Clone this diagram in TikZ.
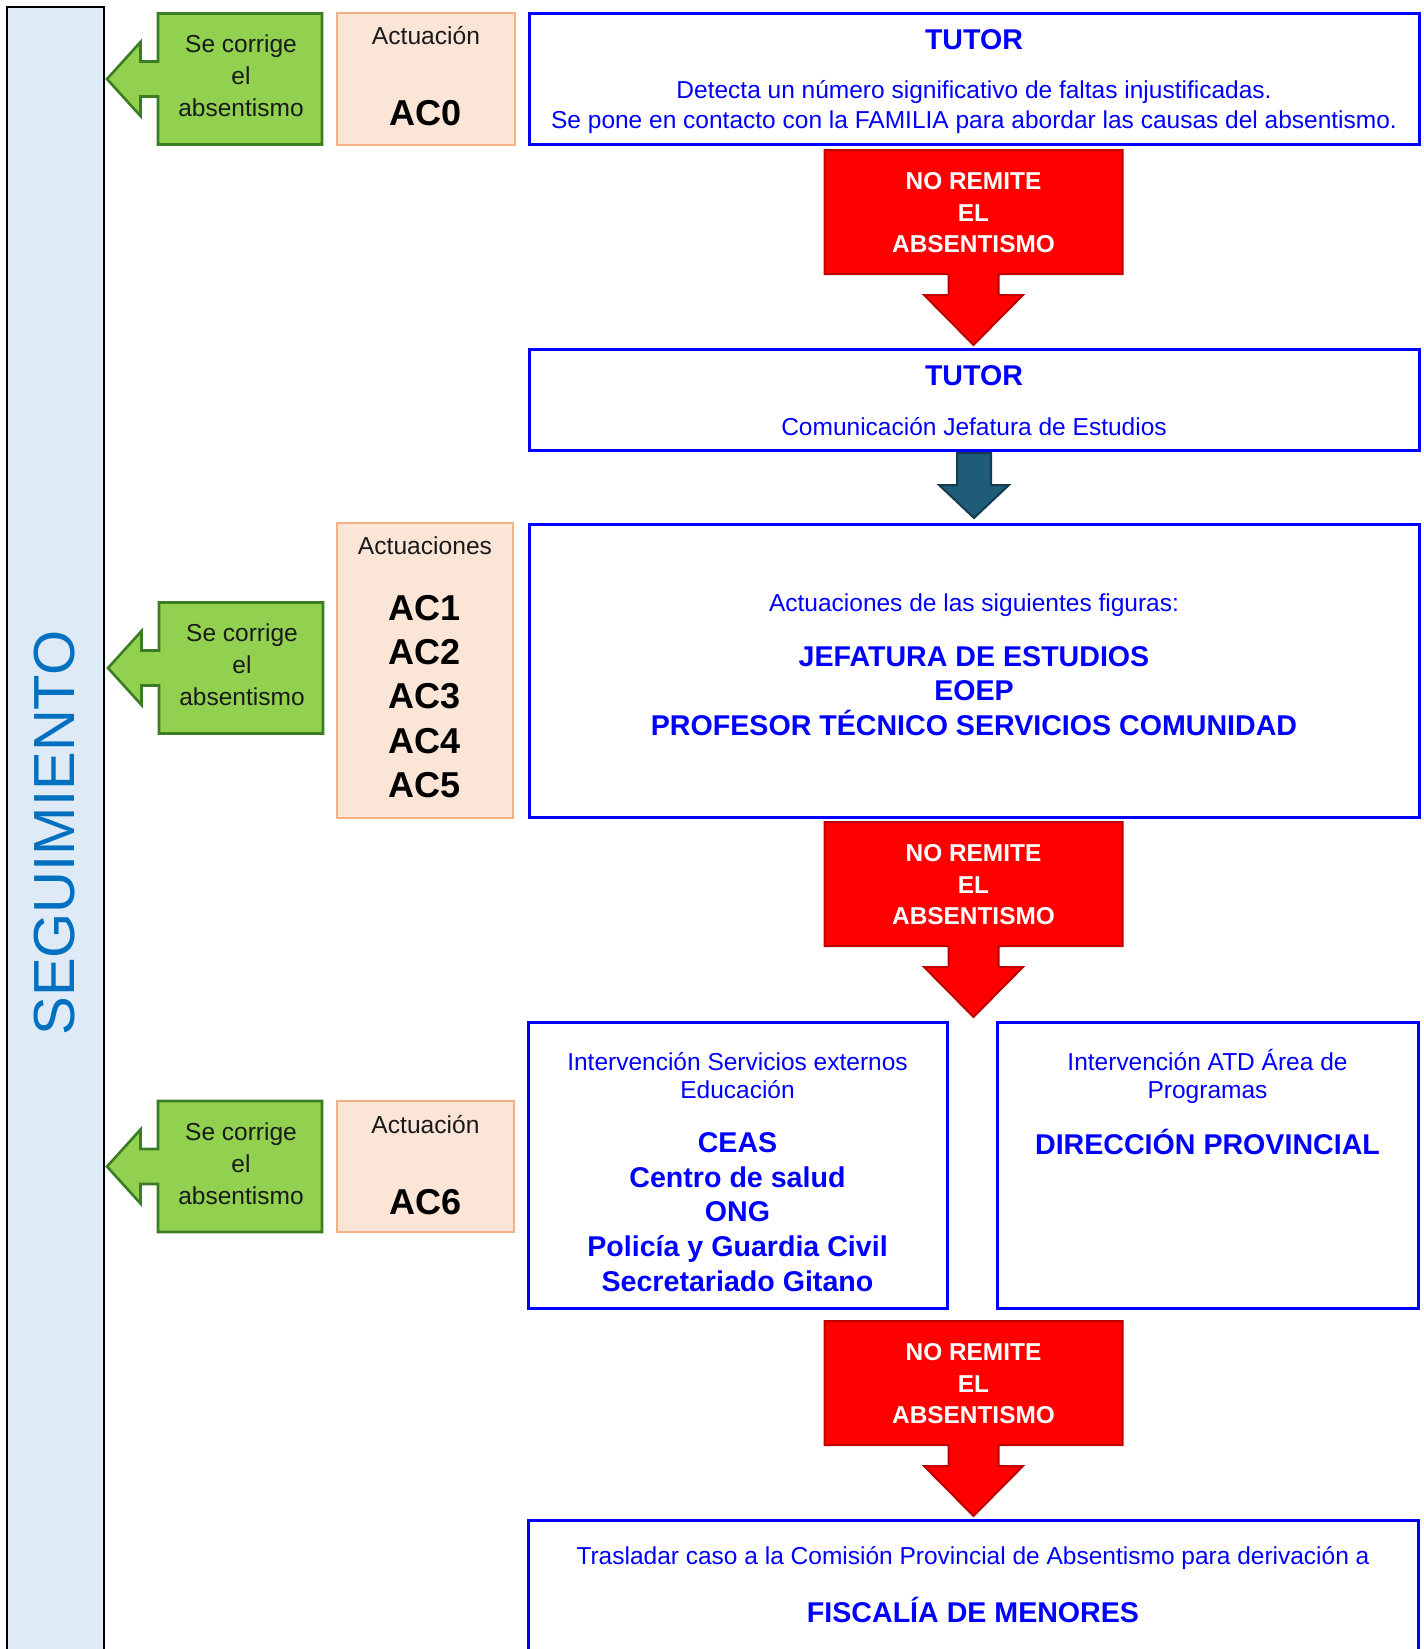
\documentclass[tikz,border=0pt]{standalone}
\usepackage{fontspec}
\setmainfont{Liberation Sans}
\usepackage{tikz}
\usetikzlibrary{positioning}
\definecolor{segblue}{HTML}{0070C0}
\definecolor{stripfill}{HTML}{DEEBF7}
\definecolor{greenfill}{HTML}{92D050}
\definecolor{greenline}{HTML}{3B7D23}
\definecolor{salmonfill}{HTML}{FBE5D6}
\definecolor{salmonline}{HTML}{F4B183}
\definecolor{boxblue}{HTML}{0000FF}
\definecolor{redline}{HTML}{C00000}
\definecolor{stepblue}{HTML}{1F5C7A}
\definecolor{stepline}{HTML}{143A4E}
\definecolor{inkgray}{HTML}{1A1A1A}
\tikzset{
  flow/strip/.style={draw=black, line width=0.85pt, fill=stripfill, inner sep=0pt},
  flow/title/.style={text=segblue, font=\fontsize{29}{34}\selectfont, rotate=90},
  flow/stage/.style={draw=boxblue, line width=1.5pt, fill=white, inner sep=0pt},
  flow/plain/.style={text=boxblue, align=center, font=\fontsize{12.25}{15}\selectfont},
  flow/strong/.style={text=boxblue, align=center, font=\fontsize{14.3}{17.4}\selectfont\bfseries},
  flow/act/.style={draw=salmonline, line width=1.3pt, fill=salmonfill, inner sep=0pt},
  flow/acthead/.style={text=inkgray, font=\fontsize{12.3}{15}\selectfont},
  flow/code/.style={text=black, align=center, font=\fontsize{18}{22.1}\selectfont\bfseries},
  flow/greenarrow/.style={draw=greenline, line width=1.3pt, fill=greenfill, line join=miter},
  flow/greentext/.style={text=inkgray, align=center, font=\fontsize{12.25}{16}\selectfont},
  flow/redarrow/.style={draw=redline, line width=1pt, fill=red},
  flow/redtext/.style={text=white, align=center, font=\fontsize{12.2}{15.75}\selectfont\bfseries},
  flow/darkarrow/.style={draw=stepline, line width=1pt, fill=stepblue},
  pics/noremite/.style={code={
    \path[flow/redarrow] (-149,0) -- (149,0) -- (149,124) -- (25,124) -- (25,145) -- (49.5,145)
      -- (0,195) -- (-49.5,145) -- (-25,145) -- (-25,124) -- (-149,124) -- cycle;
    \node[flow/redtext] (-txt) at (0,63) {NO REMITE\\EL\\ABSENTISMO};
  }},
  pics/corrige/.style={code={
    \path[flow/greenarrow] (-82,-65.5) -- (82,-65.5) -- (82,65.5) -- (-82,65.5) -- (-82,17.5)
      -- (-99.5,17.5) -- (-99.5,37) -- (-133,0) -- (-99.5,-37) -- (-99.5,-17.5) -- (-82,-17.5) -- cycle;
    \node[flow/greentext] (-txt) at (1,-3) {Se corrige\\el\\absentismo};
  }},
  pics/downstep/.style={code={
    \path[flow/darkarrow] (-17,0) -- (17,0) -- (17,32) -- (35,32) -- (0,65) -- (-35,32) -- (-17,32) -- cycle;
  }}
}

\begin{document}
\begin{tikzpicture}[x=0.5pt, y=-0.5pt]
  \useasboundingbox (0,0) rectangle (1424,1649);
  \clip (0,0) rectangle (1424,1649);

  % side band
  \node[flow/strip, minimum width=48.5pt, minimum height=846.5pt] (band) at (55.5,853.5) {};
  \node[flow/title] (seg) at (55,833) {SEGUIMIENTO};

  % actuaciones
  \node[flow/act, minimum width=89pt, minimum height=66pt] (ac0) at (426,79) {};
  \node[flow/acthead] (ac0h) at (426,36) {Actuación};
  \node[flow/code] (ac0c) at (426,113) {AC0};

  \node[flow/act, minimum width=88pt, minimum height=147.5pt] (acs) at (425,670.5) {};
  \node[flow/acthead] (acsh) at (425,546) {Actuaciones};
  \node[flow/code] (acsc) at (425,696.5) {AC1\\AC2\\AC3\\AC4\\AC5};

  \node[flow/act, minimum width=88.5pt, minimum height=65.5pt] (ac6) at (425.5,1166.5) {};
  \node[flow/acthead] (ac6h) at (425.5,1125) {Actuación};
  \node[flow/code] (ac6c) at (425.5,1202) {AC6};

  % se corrige
  \pic (cor0) at (240,79) {corrige};
  \pic (cor1) at (241,668) {corrige};
  \pic (cor2) at (240,1166.5) {corrige};

  % stages
  \node[flow/stage, minimum width=445pt, minimum height=65.5pt] (tut1) at (974,78.5) {};
  \node[flow/strong] (tut1h) at (974,40) {TUTOR};
  \node[flow/plain] (tut1t) at (974,107) {Detecta un número significativo de faltas injustificadas.\\Se pone en contacto con la FAMILIA para abordar las causas del absentismo.};

  \node[flow/stage, minimum width=445pt, minimum height=50.5pt] (tut2) at (974,399.5) {};
  \node[flow/strong] (tut2h) at (974,376) {TUTOR};
  \node[flow/plain] (tut2t) at (974,427) {Comunicación Jefatura de Estudios};

  \node[flow/stage, minimum width=445pt, minimum height=146.5pt] (fig) at (974,670.5) {};
  \node[flow/plain] (figt) at (974,605) {Actuaciones de las siguientes figuras:};
  \node[flow/strong] (figs) at (974,691) {JEFATURA DE ESTUDIOS\\EOEP\\PROFESOR TÉCNICO SERVICIOS COMUNIDAD};

  \node[flow/stage, minimum width=209.5pt, minimum height=143pt] (ext) at (737.5,1165) {};
  \node[flow/plain, font=\fontsize{12.25}{14}\selectfont] (extt) at (737.5,1076) {Intervención Servicios externos\\Educación};
  \node[flow/strong] (exts) at (737.5,1212) {CEAS\\Centro de salud\\ONG\\Policía y Guardia Civil\\Secretariado Gitano};

  \node[flow/stage, minimum width=210.5pt, minimum height=143pt] (atd) at (1207.5,1165) {};
  \node[flow/plain, font=\fontsize{12.25}{14}\selectfont] (atdt) at (1207.5,1076) {Intervención ATD Área de\\Programas};
  \node[flow/strong] (atds) at (1207.5,1142) {DIRECCIÓN PROVINCIAL};

  \node[flow/stage, minimum width=445pt, minimum height=90pt] (fis) at (973,1610) {};
  \node[flow/plain] (fist) at (973,1558) {Trasladar caso a la Comisión Provincial de Absentismo para derivación a};
  \node[flow/strong] (fiss) at (973,1610) {FISCALÍA DE MENORES};

  % block arrows
  \pic (nr1) at (973.5,150) {noremite};
  \pic (stp) at (974,453) {downstep};
  \pic (nr2) at (973.5,822) {noremite};
  \pic (nr3) at (973.5,1321) {noremite};
\end{tikzpicture}
\end{document}
